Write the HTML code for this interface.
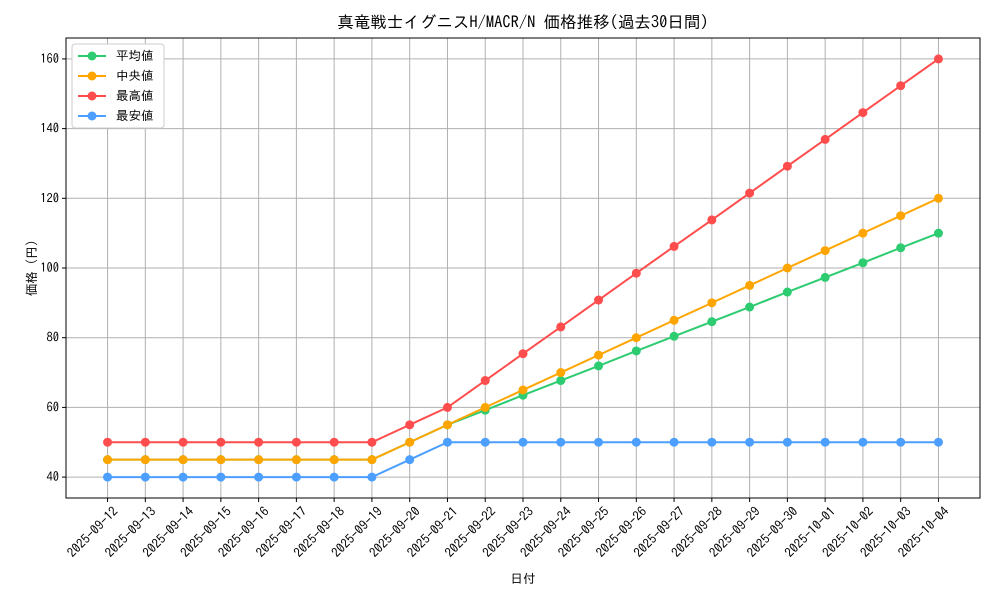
<!DOCTYPE html>
<html><head><meta charset="utf-8"><style>
body{margin:0;background:#fff;}
svg text{font-family:"IPAGothic","Noto Sans CJK JP",sans-serif;fill:#000;}
</style></head><body>
<svg id="chart" width="1000" height="600" xmlns="http://www.w3.org/2000/svg"></svg>
<script>
const dates=["2025-09-12","2025-09-13","2025-09-14","2025-09-15","2025-09-16","2025-09-17","2025-09-18","2025-09-19","2025-09-20","2025-09-21","2025-09-22","2025-09-23","2025-09-24","2025-09-25","2025-09-26","2025-09-27","2025-09-28","2025-09-29","2025-09-30","2025-10-01","2025-10-02","2025-10-03","2025-10-04"];
const meanVals=[45,45,45,45,45,45,45,45,50,55,59.2,63.5,67.7,71.9,76.2,80.4,84.6,88.8,93.1,97.3,101.5,105.8,110];
const medianVals=[45,45,45,45,45,45,45,45,50,55,60,65,70,75,80,85,90,95,100,105,110,115,120];
const maxVals=[50,50,50,50,50,50,50,50,55,60,67.7,75.4,83.1,90.8,98.5,106.2,113.8,121.5,129.2,136.9,144.6,152.3,160];
const minVals=[40,40,40,40,40,40,40,40,45,50,50,50,50,50,50,50,50,50,50,50,50,50,50];
const yTicks=[40,60,80,100,120,140,160];
const seriesNames=["平均値","中央値","最高値","最安値"];
const seriesColors=["#2ecc71","#ffa500","#ff4d4d","#4d9fff"];
const seriesData=[meanVals,medianVals,maxVals,minVals];

const svg=document.getElementById('chart');
const NS="http://www.w3.org/2000/svg";
const L=66,R=980,T=38,B=498;
const all=[].concat(...seriesData);
const ymin=Math.min(...all),ymax=Math.max(...all),pad=(ymax-ymin)*0.05;
const y0=ymin-pad,y1=ymax+pad;
const n=dates.length,xpad=(n-1)*0.05;
function xs(i){return L+(i+xpad)/(n-1+2*xpad)*(R-L);}
function ys(v){return B-(v-y0)/(y1-y0)*(B-T);}
function mk(tag,attrs,parent){const e=document.createElementNS(NS,tag);for(const k in attrs)e.setAttribute(k,attrs[k]);(parent||svg).appendChild(e);return e;}

const grid=mk('g',{});


dates.forEach((d,i)=>{
  const x=xs(i);
  mk('line',{x1:x,x2:x,y1:T,y2:B,stroke:'#b0b0b0','stroke-width':1},grid);
  mk('line',{x1:x,x2:x,y1:B,y2:B+4,stroke:'#000'},grid);
  const t=mk('text',{transform:`translate(${x+5},${B+8}) rotate(-45)`,'text-anchor':'end','font-size':13,'dominant-baseline':'hanging'});
  t.textContent=d;
  
  
});
yTicks.forEach(v=>{
  const y=ys(v);
  mk('line',{x1:L,x2:R,y1:y,y2:y,stroke:'#b0b0b0','stroke-width':1},grid);
  mk('line',{x1:L-4,x2:L,y1:y,y2:y,stroke:'#000'},grid);
  const t=mk('text',{x:L-7,y:y+4,'text-anchor':'end','font-size':12.5});
  t.textContent=v;
  
  
});
seriesData.forEach((vals,s)=>{
  const g=mk('g',{});
  
  
  mk('polyline',{points:vals.map((v,i)=>xs(i)+','+ys(v)).join(' '),fill:'none',stroke:seriesColors[s],'stroke-width':2},g);
  vals.forEach((v,i)=>{
    const c=mk('circle',{cx:xs(i),cy:ys(v),r:4.5,fill:seriesColors[s]},g);
    
    
  });
});
const frame=mk('rect',{x:L,y:T,width:R-L,height:B-T,fill:'none',stroke:'#000','stroke-width':1});


const title=mk('text',{x:(L+R)/2,y:28,'text-anchor':'middle','font-size':16.5});
title.textContent='真竜戦士イグニスH/MACR/N 価格推移(過去30日間)';


const xt=mk('text',{x:(L+R)/2,y:583,'text-anchor':'middle','font-size':12.5});
xt.textContent='日付';


const yt=mk('text',{transform:`translate(36,${(T+B)/2}) rotate(-90)`,'text-anchor':'middle','font-size':12.5});
yt.textContent='価格 (円)';


const lg=mk('g',{});


mk('rect',{x:72,y:44,width:92,height:84,fill:'#fff',stroke:'#ccc',rx:3},lg);
seriesNames.forEach((nm,s)=>{
  const y=56+s*20;
  const e=mk('g',{},lg);
  
  
  mk('line',{x1:78,x2:106,y1:y,y2:y,stroke:seriesColors[s],'stroke-width':2},e);
  mk('circle',{cx:92,cy:y,r:4.5,fill:seriesColors[s]},e);
  const t=mk('text',{x:116,y:y+4,'font-size':12.5},e);
  t.textContent=nm;
});
</script>
</body></html>
